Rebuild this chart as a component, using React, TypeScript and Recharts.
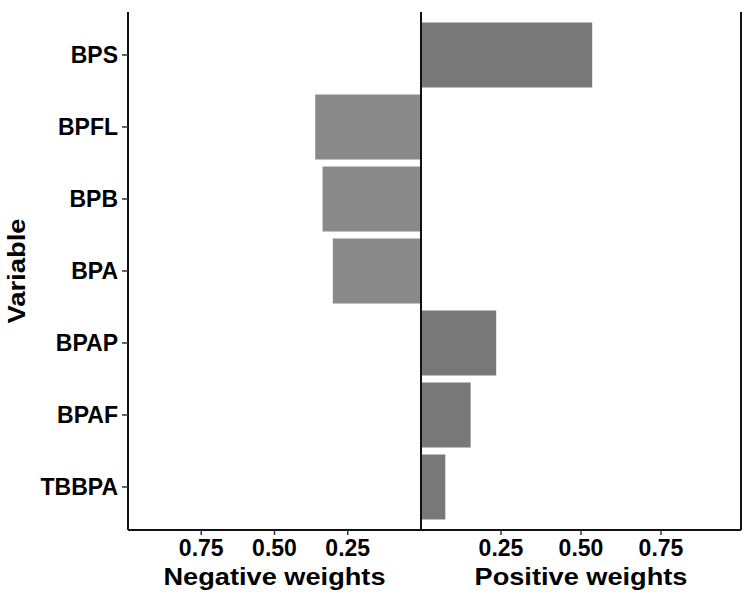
import React from 'react';
import { BarChart, Bar, XAxis, YAxis, ReferenceLine } from 'recharts';

const variables = ['BPS', 'BPFL', 'BPB', 'BPA', 'BPAP', 'BPAF', 'TBBPA'];
const negativeWeights = [null, 0.361, 0.336, 0.301, null, null, null];
const positiveWeights = [0.535, null, null, null, 0.235, 0.155, 0.076];
const tickValues = [0.25, 0.5, 0.75];

const data = variables.map((v, i) => ({
  variable: v,
  neg: negativeWeights[i],
  pos: positiveWeights[i],
}));

const FONT = '"Liberation Sans", Arial, Helvetica, sans-serif';
const AXIS = '#111111';

const tickStyle = { fontFamily: FONT, fontWeight: 700, fontSize: 23, fill: '#000000' };

const fmt = (v: number) => v.toFixed(2);

const xTitle = (text: string, len: number) => (props: any) => {
  const vb = props.viewBox || {};
  const cx = (vb.x ?? 0) + (vb.width ?? 0) / 2;
  const y = (vb.y ?? 530) + 55;
  return (
    <text
      x={cx}
      y={y}
      textAnchor="middle"
      fontFamily={FONT}
      fontWeight={700}
      fontSize={24}
      fill="#000"
      textLength={len}
      lengthAdjust="spacingAndGlyphs"
    >
      {text}
    </text>
  );
};

const yTitle = (props: any) => {
  const vb = props.viewBox || {};
  const cy = (vb.y ?? 12) + (vb.height ?? 518) / 2;
  const x = 25;
  return (
    <text
      x={x}
      y={cy}
      transform={`rotate(-90, ${x}, ${cy})`}
      textAnchor="middle"
      fontFamily={FONT}
      fontWeight={700}
      fontSize={24}
      fill="#000"
      textLength={105}
      lengthAdjust="spacingAndGlyphs"
    >
      Variable
    </text>
  );
};

export default function App() {
  return (
    <div style={{ position: 'absolute', left: 0, top: 0, width: 755, height: 601, background: '#fff' }}>
      <div style={{ position: 'absolute', left: 0, top: 0 }}>
        <BarChart
          width={421}
          height={601}
          data={data}
          layout="vertical"
          margin={{ top: 12, right: 0, bottom: 0, left: 0 }}
          barCategoryGap="5%"
        >
          <XAxis
            type="number"
            domain={[0, 1]}
            reversed
            ticks={tickValues}
            tickFormatter={fmt}
            height={71}
            tick={tickStyle}
            tickSize={5}
            tickMargin={5}
            axisLine={{ stroke: AXIS, strokeWidth: 2 }}
            tickLine={{ stroke: '#333', strokeWidth: 1.5 }}
            allowDataOverflow
            label={xTitle('Negative weights', 222)}
          />
          <YAxis
            type="category"
            dataKey="variable"
            width={128}
            padding={{ top: 7, bottom: 7 }}
            tick={tickStyle}
            tickSize={6}
            tickMargin={4}
            axisLine={{ stroke: AXIS, strokeWidth: 2 }}
            tickLine={{ stroke: '#333', strokeWidth: 1.5 }}
            interval={0}
            label={yTitle}
          />
          <Bar dataKey="neg" fill="#8a8a8a" isAnimationActive={false} />
        </BarChart>
      </div>
      <div style={{ position: 'absolute', left: 415, top: 0 }}>
        <BarChart
          width={340}
          height={601}
          data={data}
          layout="vertical"
          margin={{ top: 12, right: 14, bottom: 0, left: 6 }}
          barCategoryGap="5%"
        >
          <XAxis
            type="number"
            domain={[0, 1]}
            ticks={tickValues}
            tickFormatter={fmt}
            height={71}
            tick={tickStyle}
            tickSize={5}
            tickMargin={5}
            axisLine={{ stroke: AXIS, strokeWidth: 2 }}
            tickLine={{ stroke: '#333', strokeWidth: 1.5 }}
            allowDataOverflow
            label={xTitle('Positive weights', 213)}
          />
          <YAxis
            type="category"
            dataKey="variable"
            width={0}
            padding={{ top: 7, bottom: 7 }}
            tick={false}
            tickLine={false}
            axisLine={false}
            interval={0}
          />
          <Bar dataKey="pos" fill="#787878" isAnimationActive={false} />
          <ReferenceLine x={0} stroke={AXIS} strokeWidth={2} ifOverflow="visible" />
          <ReferenceLine x={1} stroke={AXIS} strokeWidth={2} ifOverflow="visible" />
        </BarChart>
      </div>
    </div>
  );
}
